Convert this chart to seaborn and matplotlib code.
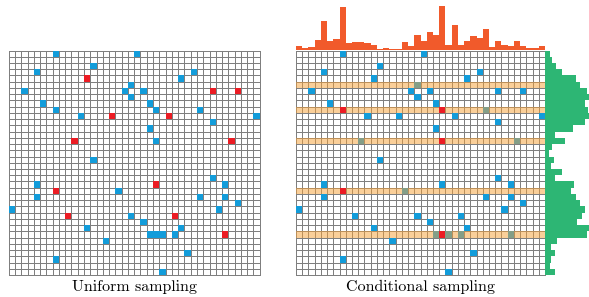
import numpy as np
import matplotlib
matplotlib.use("Agg")
import matplotlib.pyplot as plt
import seaborn as sns
from matplotlib.colors import ListedColormap

N_COLS = 40
N_ROWS = 36

# sample cells drawn blue in the uniform panel (column, row)
uni_blue_cols = [7, 20, 13, 4, 29, 27, 19, 2, 18, 21, 19, 5, 22, 7, 23, 30, 11, 39, 32, 22,
                 23, 13, 32, 4, 34, 17, 4, 30, 34, 36, 0, 33, 19, 21, 12, 27, 22, 23, 24, 26,
                 15, 28, 7, 24]
uni_blue_rows = [0, 0, 2, 3, 3, 4, 5, 6, 6, 6, 7, 8, 8, 9, 9, 9, 10, 10, 11, 12,
                 14, 17, 20, 21, 21, 22, 23, 23, 23, 24, 25, 25, 26, 27, 28, 28, 29, 29, 29, 29,
                 30, 32, 33, 35]
# cells picked by uniform sampling
uni_red_cols = [12, 32, 36, 16, 25, 10, 35, 23, 7, 9, 26, 34]
uni_red_rows = [4, 6, 6, 10, 10, 14, 14, 21, 22, 26, 26, 29]
# cells picked by conditional sampling
cond_red_cols = [7, 23, 23, 7, 23]
cond_red_rows = [9, 9, 14, 22, 29]
band_rows = [5, 9, 14, 22, 29]

# marginal histograms of the conditional panel
top_counts = [4.7, 2.7, 3.7, 10.7, 29.7, 9.7, 11.7, 43.7, 7.7, 8.7, 8.7, 7.7, 5.7, 1.7, 2.7,
              1.7, 1.7, 8.7, 4.7, 15.7, 9.7, 18.7, 15.7, 44.7, 5.7, 25.7, 5.7, 9.7, 14.7, 12.7,
              21.7, 3.7, 9.7, 5.7, 4.7, 9.7, 4.7, 2.7, 2.7, 4.7]
side_counts = [5, 7, 11, 17, 31, 35, 42, 44, 40, 43, 44, 40, 28, 10, 20, 7, 4, 9, 6, 17,
               10, 29, 26, 31, 35, 40, 37, 32, 44, 42, 12, 6, 10, 6, 5, 10]

titles = ["Uniform sampling", "Conditional sampling"]

GRID = "#7f7f7f"
BLUE = "#129cda"
RED = "#ec1c24"
BAND = "#f7a035"
ORANGE = "#f15a2b"
GREEN = "#2db674"


def draw_grid(ax):
    base = np.zeros((N_ROWS, N_COLS))
    sns.heatmap(base, cmap=ListedColormap(["white"]), vmin=0, vmax=1, cbar=False,
                linewidths=0.6, linecolor=GRID, xticklabels=False, yticklabels=False, ax=ax)
    ax.collections[-1].set_clip_on(False)
    ax.collections[-1].set_zorder(1)


def draw_cells(ax, cols, rows, color, z):
    mat = np.full((N_ROWS, N_COLS), np.nan)
    for c, r in zip(cols, rows):
        mat[r, c] = 1
    sns.heatmap(mat, mask=np.isnan(mat), cmap=ListedColormap([color]), vmin=0, vmax=1,
                cbar=False, linewidths=0, xticklabels=False, yticklabels=False, ax=ax)
    ax.collections[-1].set_zorder(z)
    ax.collections[-1].set_clip_on(False)


fig = plt.figure(figsize=(5.89, 2.97), dpi=100)
W, H = 589, 297
ax_left = fig.add_axes([8.7 / W, 22 / H, 251 / W, 224.5 / H])
ax_right = fig.add_axes([296 / W, 22 / H, 249 / W, 224.5 / H])
ax_top = fig.add_axes([296 / W, (H - 50.5) / H, 249 / W, 45.5 / H])
ax_side = fig.add_axes([545 / W, 22 / H, 44 / W, 224.5 / H])

# uniform panel
draw_grid(ax_left)
draw_cells(ax_left, uni_blue_cols, uni_blue_rows, BLUE, 2)
draw_cells(ax_left, uni_red_cols, uni_red_rows, RED, 4)

# conditional panel: same samples, picked ones in red over the row bands
picked = set(zip(cond_red_cols, cond_red_rows))
all_cells = list(zip(uni_blue_cols + uni_red_cols, uni_blue_rows + uni_red_rows))
rest = [cr for cr in all_cells if cr not in picked]
draw_grid(ax_right)
draw_cells(ax_right, [c for c, r in rest], [r for c, r in rest], BLUE, 2)
for r in band_rows:
    ax_right.axhspan(r, r + 1, color=BAND, alpha=0.5, lw=0, zorder=3)
draw_cells(ax_right, cond_red_cols, cond_red_rows, RED, 4)

# marginals
sns.barplot(x=list(range(N_COLS)), y=top_counts, color=ORANGE, saturation=1,
            width=1, linewidth=0, ax=ax_top)
ax_top.set_xlim(-0.5, N_COLS - 0.5)
ax_top.set_ylim(0, 45.5)
ax_top.set_axis_off()

sns.barplot(x=side_counts, y=list(range(N_ROWS)), orient="h", color=GREEN, saturation=1,
            width=1, linewidth=0, ax=ax_side)
ax_side.set_ylim(N_ROWS - 0.5, -0.5)
ax_side.set_xlim(0, 44)
ax_side.set_axis_off()

fig.text(134 / W, 6.5 / H, titles[0], ha="center", va="baseline",
         fontfamily="cmr10", fontsize=11.5)
fig.text(420.5 / W, 6.5 / H, titles[1], ha="center", va="baseline",
         fontfamily="cmr10", fontsize=11.5)

fig.savefig("out.png", dpi=100)
